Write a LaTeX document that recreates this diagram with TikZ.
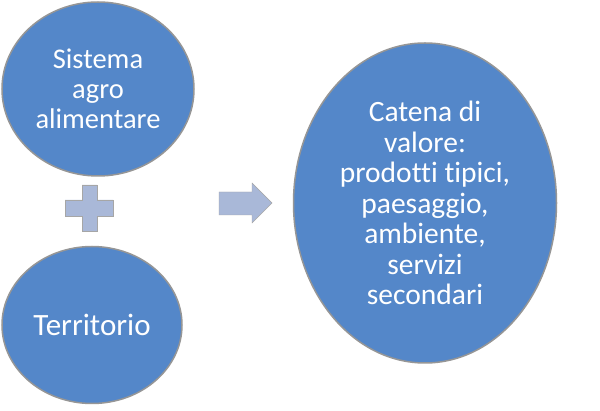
\documentclass[tikz,border=0pt]{standalone}
\usepackage{fontspec}
\setmainfont{Carlito}[Ligatures=NoCommon]
\usetikzlibrary{shapes.geometric,shapes.arrows,backgrounds}
\definecolor{bleuforme}{RGB}{84,135,201}
\definecolor{bleuclair}{RGB}{169,184,216}
\definecolor{bordforme}{RGB}{150,150,150}

\begin{document}
\begin{tikzpicture}[%
    x=1pt,y=-1pt,%
    show background rectangle,%
    tight background,%
    background rectangle/.style={fill=white}%
    ]
    % Schéma de la chaîne de valeur

    %
    % Définitions
    %
    \pgfmathsetmacro{\xa}{98};%
    \pgfmathsetmacro{\ya}{89};%
    \pgfmathsetmacro{\xb}{92};%
    \pgfmathsetmacro{\yb}{325};%
    \pgfmathsetmacro{\xc}{425};%
    \pgfmathsetmacro{\yc}{203};%

    %
    % Styles
    %
    \tikzset{bulle/.style={ellipse,fill=bleuforme,draw=bordforme,%
        line width=1.5pt,inner sep=0pt,text=white,align=center}};%
    \tikzset{signe/.style={fill=bleuclair,draw=gray!70,line width=0.4pt}};%

    %
    % Cadre
    %
    \useasboundingbox (0,0) rectangle (600,411);%

    %
    % Coordonnées
    %
    \coordinate (sa) at (\xa,\ya);%
    \coordinate (te) at (\xb,\yb);%
    \coordinate (cv) at (\xc,\yc);%

    %
    % Dessin
    %
    % Entrées
    \node[bulle,minimum width=192,minimum height=174,%
        font=\fontsize{28.5}{30}\selectfont] (sistema) at (sa)%
        {Sistema\\agro\\alimentare};%
    \node[bulle,minimum width=180,minimum height=157,%
        font=\fontsize{31}{34}\selectfont] (territorio) at (te)%
        {Territorio};%

    % Sortie
    \node[bulle,minimum width=263,minimum height=320,%
        font=\fontsize{29.5}{30.5}\selectfont] (catena) at (cv)%
        {Catena di\\valore:\\prodotti tipici,\\paesaggio,\\ambiente,\\servizi\\secondari};%

    % Signe plus
    \draw[signe] (82,185) -- (97,185) -- (97,200) -- (113,200) -- (113,216)%
    -- (97,216) -- (97,231) -- (82,231) -- (82,216) -- (65,216)%
    -- (65,200) -- (82,200) -- cycle;%

    % Flèche
    \draw[signe] (219,192) -- (252,192) -- (252,183) -- (272,203)%
    -- (252,223) -- (252,215) -- (219,215) -- cycle;%

\end{tikzpicture}
\end{document}
